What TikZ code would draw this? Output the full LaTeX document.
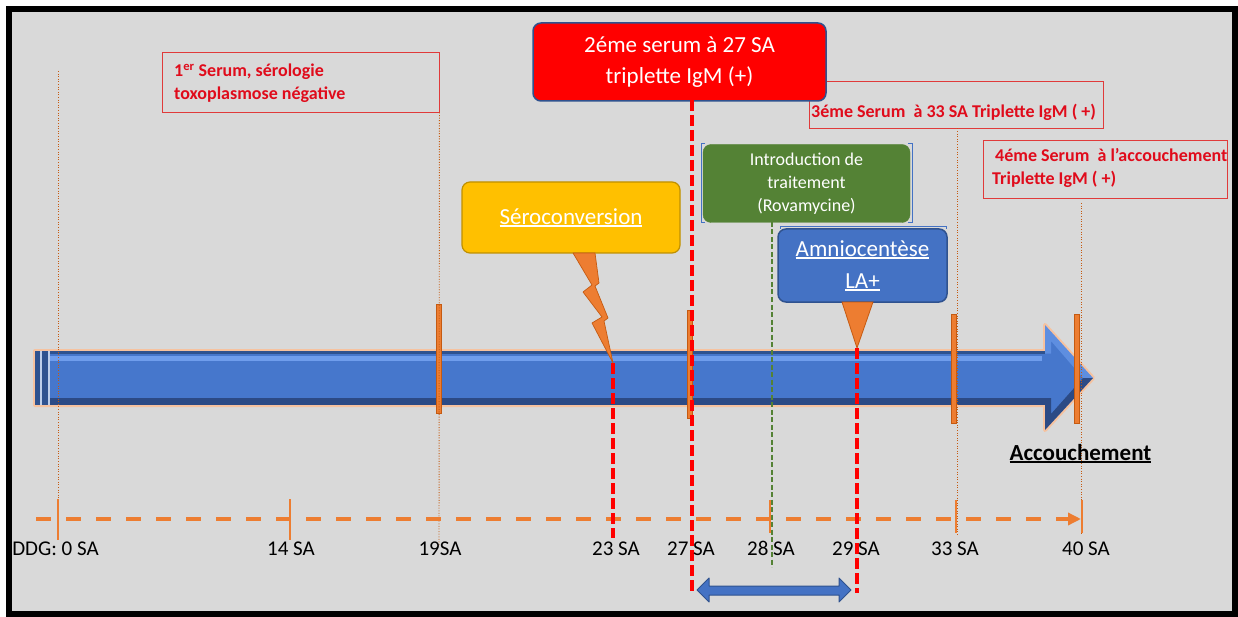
\documentclass[tikz,border=0pt]{standalone}
\usepackage{fontspec}
\setmainfont{Carlito}
\usetikzlibrary{arrows.meta}
\definecolor{bgray}{HTML}{D9D9D9}
\definecolor{txtred}{HTML}{E00B1B}
\definecolor{boxline}{HTML}{E03A3A}
\definecolor{orng}{HTML}{ED7D31}
\definecolor{orngd}{HTML}{C55A11}
\definecolor{yel}{HTML}{FFC000}
\definecolor{yeld}{HTML}{BF9000}
\definecolor{grn}{HTML}{548235}
\definecolor{blu}{HTML}{4472C4}
\definecolor{blud}{HTML}{2F528F}
\definecolor{shaft}{HTML}{4677CC}
\definecolor{hilite}{HTML}{6F9DEC}
\definecolor{shadd}{HTML}{2C4A85}
\definecolor{glow}{HTML}{F6C29F}
\definecolor{bevl}{HTML}{5E8EE0}
\newcommand\ulx[1]{\setbox0=\hbox{#1}\rlap{\rule[-2.6pt]{\wd0}{1.6pt}}\box0}
\begin{document}
\begin{tikzpicture}[x=1pt,y=-1pt,
  redtxt/.style={text=txtred,font=\fontsize{18}{23}\selectfont\bfseries,inner sep=0pt},
  outbox/.style={draw=boxline,line width=0.9pt,inner sep=0pt},
  dotln/.style={draw=orngd,line width=0.9pt,dash pattern=on 1pt off 1.6pt},
  tickbar/.style={fill=orng,draw=orngd,line width=0.8pt},
  reddash/.style={draw=red,line width=4pt,dash pattern=on 11pt off 4pt},
  lbl/.style={anchor=base,font=\fontsize{21}{25}\selectfont,inner sep=0pt},
  callout/.style={rounded corners=8pt,align=center,text=white,inner sep=0pt},
  thinblue/.style={draw=blu,line width=0.7pt}
]
\useasboundingbox (0,0) rectangle (1238,617);
\fill[black] (6,6) rectangle (1238,617);
\fill[bgray] (12,12) rectangle (1232,611);

% outlined red-text boxes
\node[outbox,minimum width=277pt,minimum height=60pt] (s1) at (300.5,82) {};
\node[redtxt,anchor=base west] (s1a) at (174,77) {1\textsuperscript{er} Serum, sérologie};
\node[redtxt,anchor=base west] (s1b) at (174,100) {toxoplasmose négative};
\node[outbox,minimum width=294pt,minimum height=47pt] (s3) at (956,104.5) {};
\node[redtxt,anchor=base west] (s3t) at (811,118) {3éme Serum\ \ à 33 SA Triplette IgM ( +)};
\node[outbox,minimum width=244pt,minimum height=58pt] (s4) at (1105,169) {};
\node[redtxt,anchor=base west] (s4a) at (995,162) {4éme Serum\ \ à l’accouchement};
\node[redtxt,anchor=base west] (s4b) at (992,185) {Triplette IgM ( +)};

% main arrow
\draw[draw=glow,line width=4pt,line join=round,fill=shaft]
  (35,351) -- (1045,351) -- (1045,325) -- (1093,378) -- (1045,430) -- (1045,405) -- (35,405) -- cycle;
\fill[blud] (35,351) rectangle (1045,353.5);
\fill[hilite] (50,356) rectangle (1042,361);
\fill[shadd] (35,398) rectangle (1045,405);
\fill[bevl] (1045,325) -- (1093,378) -- (1083,378) -- (1051,341) -- (1051,353.5) -- (1045,353.5) -- cycle;
\fill[shadd] (1045,430) -- (1093,378) -- (1083,378) -- (1051,414) -- (1051,398) -- (1045,398) -- cycle;
\fill[blud] (35,351) rectangle (50,405);
\draw[white!65!blu,line width=1.2pt] (41,351) -- (41,405);
\draw[white!65!blu,line width=1.2pt] (49,351) -- (49,405);

% orange tick bars
\draw[tickbar] (436,304) rectangle (441,413);
\draw[tickbar] (687,310) rectangle (692,418);
\draw[tickbar] (951,314) rectangle (956,423);
\draw[tickbar] (1074,314) rectangle (1079,423);

% thin dotted guides
\coordinate (d0t) at (58,71);
\coordinate (d0b) at (58,540);
\coordinate (d19b) at (439,545);
\coordinate (d33b) at (957,535);
\coordinate (d40t) at (1081,203);
\coordinate (d40b) at (1081,535);
\draw[dotln] (d0t) -- (d0b);
\draw[dotln] (s1.south east) -- (d19b);
\draw[dotln] (s3.south -| d33b) -- (d33b);
\draw[dotln] (d40t) -- (d40b);

% short solid ticks
\draw[orng,line width=1.2pt] (58,499) -- (58,540);
\draw[orng,line width=1.2pt] (290,499) -- (290,540);
\draw[orng,line width=1.2pt] (770,500) -- (770,533);
\draw[orng,line width=1.2pt] (956,500) -- (956,533);
\draw[orng,line width=1.2pt] (1082,500) -- (1082,533);

% dashed time axis
\coordinate (ta) at (36,519);
\coordinate (tb) at (1081,519);
\draw[orng,line width=4pt,dash pattern=on 15pt off 15pt,-{Triangle[length=13pt,width=12pt]}] (ta) -- (tb);

% callouts
\node[callout,fill=red,draw=blud,line width=1.5pt,minimum width=293pt,minimum height=78pt,
  font=\fontsize{23}{31}\selectfont] (s2) at (679.5,62) {2éme serum à 27 SA\\triplette IgM (+)};
\node[callout,fill=yel,draw=yeld,line width=1.2pt,minimum width=218pt,minimum height=71pt,
  font=\fontsize{23}{28}\selectfont] (sero) at (571,217.5) {\ulx{Séroconversion}};
\coordinate (bolttip) at (613,363);
\draw[fill=orng,draw=orngd,line width=0.7pt,line join=round]
  (573,253) -- (595,253) -- (599,283) -- (595,286) -- (608,318) -- (604,321) -- (bolttip)
  -- (592,323) -- (602,317) -- (583,292) -- (592,285) -- cycle;
\node[callout,fill=grn,draw=grn,minimum width=207pt,minimum height=78pt,
  font=\fontsize{18}{23}\selectfont] (gr) at (806.5,183.5) {Introduction de\\traitement\\(Rovamycine)};
\draw[thinblue] (705,143) -- (701,143) -- (701,222) -- (705,222);
\draw[thinblue] (908,143) -- (912,143) -- (912,222) -- (908,222);
\coordinate (g28t) at (772,222);
\coordinate (g28b) at (772,567);
\draw[grn,line width=1.8pt,dash pattern=on 5pt off 2.5pt] (g28t) -- (g28b);
\node[callout,fill=blu,draw=blud,line width=1.5pt,minimum width=169pt,minimum height=73pt,
  font=\fontsize{23}{32}\selectfont] (am) at (862.5,265.5) {\ulx{Amniocentèse}\\\ulx{LA+}};
\draw[thinblue] (780,229) -- (780,226) -- (946,226) -- (946,229);
\coordinate (amtip) at (857,348);
\draw[fill=orng,draw=orngd,line width=0.8pt] (842,302) -- (873,302) -- (amtip) -- cycle;

% red dashed markers
\coordinate (r23b) at (613,538);
\coordinate (r27t) at (692,100);
\coordinate (r27b) at (692,593);
\coordinate (r29b) at (857,593);
\draw[reddash] (bolttip) -- (r23b);
\draw[reddash] (r27t) -- (r27b);
\draw[reddash] (amtip) -- (r29b);

% double arrow (treatment period)
\draw[fill=blu,draw=blud,line width=1pt,line join=round]
  (697,590) -- (709,578) -- (709,586) -- (839,586) -- (839,578) -- (851,590)
  -- (839,602) -- (839,595) -- (709,595) -- (709,602) -- cycle;

% labels
\node[lbl] (l0) at (55.5,555) {DDG: 0 SA};
\node[lbl] (l14) at (291,555) {14 SA};
\node[lbl] (l19) at (440,555) {19SA};
\node[lbl] (l23) at (616,555) {23 SA};
\node[lbl] (l27) at (691,555) {27 SA};
\node[lbl] (l28) at (771,555) {28 SA};
\node[lbl] (l29) at (856,555) {29 SA};
\node[lbl] (l33) at (955,555) {33 SA};
\node[lbl] (l40) at (1086,555) {40 SA};
\node[anchor=base,font=\fontsize{23}{27}\selectfont\bfseries,inner sep=0pt] (acc) at (1080.5,460) {\ulx{Accouchement}};
\end{tikzpicture}
\end{document}
